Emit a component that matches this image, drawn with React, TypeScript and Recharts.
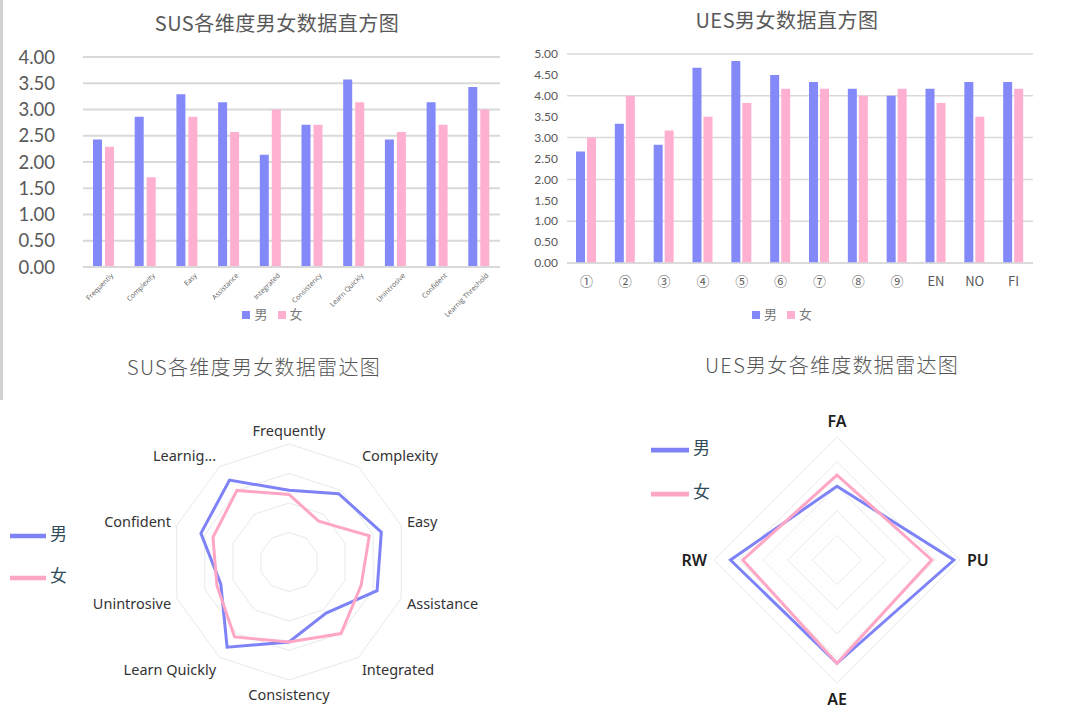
import {
  Bar,
  BarChart,
  CartesianGrid,
  Legend,
  PolarAngleAxis,
  PolarGrid,
  PolarRadiusAxis,
  Radar,
  RadarChart,
  XAxis,
  YAxis,
} from "recharts";

// SUS dimensions (bar + radar)
const susDims = [
  "Frequently",
  "Complexity",
  "Easy",
  "Assistance",
  "Integrated",
  "Consistency",
  "Learn Quickly",
  "Unintrosive",
  "Confident",
  "Learnig Threshold",
];
const susMale = [2.43, 2.86, 3.29, 3.14, 2.14, 2.71, 3.57, 2.43, 3.14, 3.43];
const susFemale = [2.29, 1.71, 2.86, 2.57, 3.0, 2.71, 3.14, 2.57, 2.71, 3.0];
const susTicks = [0, 0.5, 1, 1.5, 2, 2.5, 3, 3.5, 4];

// UES items (bar)
const uesItems = ["①", "②", "③", "④", "⑤", "⑥", "⑦", "⑧", "⑨", "EN", "NO", "FI"];
const uesMale = [2.67, 3.33, 2.83, 4.67, 4.83, 4.5, 4.33, 4.17, 4.0, 4.17, 4.33, 4.33];
const uesFemale = [3.0, 4.0, 3.17, 3.5, 3.83, 4.17, 4.17, 4.0, 4.17, 3.83, 3.5, 4.17];
const uesTicks = [0, 0.5, 1, 1.5, 2, 2.5, 3, 3.5, 4, 4.5, 5];

// UES dimensions (radar)
const uesDims = ["FA", "PU", "AE", "RW"];
const uesDimMale = [3.0, 4.75, 4.2, 4.33];
const uesDimFemale = [3.45, 3.85, 4.2, 3.83];

const seriesOrder = ["男", "女"];

const MALE_BAR = "#8389F8";
const FEMALE_BAR = "#FFAFCF";
const MALE_LINE = "#7D83F6";
const FEMALE_LINE = "#FFA6C6";

const CJK = '"Noto Sans CJK SC", "Noto Sans", sans-serif';

const susData = susDims.map((d, i) => ({ name: d, male: susMale[i], female: susFemale[i] }));
const uesData = uesItems.map((d, i) => ({ name: d, male: uesMale[i], female: uesFemale[i] }));
const uesDimData = uesDims.map((d, i) => ({ name: d, male: uesDimMale[i], female: uesDimFemale[i] }));

// keep 男 before 女 in legends (recharts sorts by value otherwise)
const legendSorter = (item: any) => seriesOrder.indexOf(String(item.value));

const titleStyle = (left: number, top: number, width: number, light = false) => ({
  position: "absolute" as const,
  left,
  top,
  width,
  textAlign: "center" as const,
  fontFamily: CJK,
  fontSize: 20,
  lineHeight: "28px",
  letterSpacing: light ? 1.3 : 0.5,
  fontWeight: light ? 300 : 400,
  color: light ? "#555" : "#595959",
});

const barLegendText = (v: string) => (
  <span style={{ color: "#7a7a7a", fontSize: 13, fontFamily: CJK }}>{v}</span>
);
const radarLegendText = (v: string) => (
  <span style={{ color: "#2f4b5a", fontSize: 17, fontFamily: CJK }}>{v}</span>
);

function SusTick(props: any) {
  const { x, y, payload } = props;
  return (
    <g transform={`translate(${x + 10},${y + 1})`}>
      <text
        textAnchor="end"
        transform="rotate(-45)"
        fontSize={7}
        fill="#595959"
        fontFamily='"Open Sans", sans-serif'
      >
        {payload.value}
      </text>
    </g>
  );
}

function makeRadarTick(cy: number, r: number, shift: number, fontSize: number, weight: number, color: string) {
  return (props: any) => {
    const { x, y, textAnchor, payload } = props;
    let label = String(payload.value);
    if (label.length > 14) label = label.slice(0, 7) + "...";
    const dy = ((y - cy) / r) * shift;
    return (
      <text
        x={x}
        y={y + dy}
        textAnchor={textAnchor}
        dominantBaseline="central"
        fontSize={fontSize}
        fontWeight={weight}
        fill={color}
        fontFamily='"Noto Sans", sans-serif'
      >
        {label}
      </text>
    );
  };
}

const susRadarTick = makeRadarTick(222, 124, 8, 14.5, 400, "#333");
const uesRadarTick = makeRadarTick(220, 130, 9, 16, 600, "#1e1e1e");

export default function App() {
  return (
    <div
      style={{
        position: "absolute",
        left: 0,
        top: 0,
        width: 1080,
        height: 720,
        background: "#fff",
        overflow: "hidden",
      }}
    >
      <div style={{ position: "absolute", left: 0, top: 0, width: 3, height: 400, background: "#d2d2d2" }} />

      {/* SUS bar chart */}
      <div style={titleStyle(0, 9, 554)}>SUS各维度男女数据直方图</div>
      <div style={{ position: "absolute", left: 0, top: 0 }}>
        <BarChart
          width={520}
          height={330}
          data={susData}
          margin={{ top: 57, right: 20, bottom: 13, left: 0 }}
          barSize={9}
          barGap={3}
        >
          <CartesianGrid vertical={false} stroke="#d9d9d9" strokeWidth={2} />
          <XAxis
            dataKey="name"
            interval={0}
            height={50}
            tick={<SusTick />}
            tickLine={false}
            axisLine={{ stroke: "#d9d9d9", strokeWidth: 2 }}
          />
          <YAxis
            width={83}
            domain={[0, 4]}
            ticks={susTicks}
            tickFormatter={(v) => Number(v).toFixed(2)}
            tickLine={false}
            axisLine={false}
            tickMargin={22}
            tick={{ fontSize: 18.5, fill: "#595959", fontFamily: "Lato, sans-serif" }}
          />
          <Legend
            layout="horizontal"
            verticalAlign="middle"
            align="center"
            iconType="square"
            iconSize={8}
            itemSorter={legendSorter}
            formatter={barLegendText}
            wrapperStyle={{ top: 304, left: 0, width: 555 }}
          />
          <Bar dataKey="male" name="男" fill={MALE_BAR} isAnimationActive={false} />
          <Bar dataKey="female" name="女" fill={FEMALE_BAR} isAnimationActive={false} />
        </BarChart>
      </div>

      {/* UES bar chart */}
      <div style={titleStyle(520, 6, 534)}>UES男女数据直方图</div>
      <div style={{ position: "absolute", left: 520, top: 0 }}>
        <BarChart
          width={560}
          height={330}
          data={uesData}
          margin={{ top: 54, right: 47, bottom: 37, left: 0 }}
          barSize={9}
          barGap={2}
        >
          <CartesianGrid vertical={false} stroke="#d9d9d9" strokeWidth={1.5} />
          <XAxis
            dataKey="name"
            interval={0}
            height={30}
            tickLine={false}
            tickMargin={8}
            axisLine={{ stroke: "#d9d9d9", strokeWidth: 1.5 }}
            tick={{ fontSize: 13, fill: "#595959", fontFamily: CJK }}
          />
          <YAxis
            width={47}
            domain={[0, 5]}
            ticks={uesTicks}
            tickFormatter={(v) => Number(v).toFixed(2)}
            tickLine={false}
            axisLine={false}
            tickMargin={3}
            tick={{ fontSize: 12, fill: "#595959", fontFamily: "Lato, sans-serif" }}
          />
          <Legend
            layout="horizontal"
            verticalAlign="middle"
            align="center"
            iconType="square"
            iconSize={8}
            itemSorter={legendSorter}
            formatter={barLegendText}
            wrapperStyle={{ top: 304, left: 0, width: 534 }}
          />
          <Bar dataKey="male" name="男" fill={MALE_BAR} isAnimationActive={false} />
          <Bar dataKey="female" name="女" fill={FEMALE_BAR} isAnimationActive={false} />
        </BarChart>
      </div>

      {/* SUS radar */}
      <div style={titleStyle(0, 353, 508, true)}>SUS各维度男女数据雷达图</div>
      <div style={{ position: "absolute", left: 0, top: 340 }}>
        <RadarChart
          width={520}
          height={380}
          data={susData}
          cx={289}
          cy={222}
          outerRadius={118}
          margin={{ top: 0, right: 0, bottom: 0, left: 0 }}
        >
          <PolarGrid gridType="polygon" radialLines={false} stroke="#e6eaea" />
          <PolarRadiusAxis domain={[0, 4]} tickCount={5} tick={false} axisLine={false} />
          <PolarAngleAxis
            dataKey="name"
            tickSize={6}
            tickLine={false}
            axisLine={false}
            tick={susRadarTick}
          />
          <Legend
            layout="vertical"
            verticalAlign="middle"
            align="center"
            iconType="plainline"
            iconSize={36}
            itemSorter={legendSorter}
            formatter={radarLegendText}
            wrapperStyle={{ top: 173, left: 10, width: "auto", lineHeight: "40px" }}
          />
          <Radar
            dataKey="male"
            name="男"
            stroke={MALE_LINE}
            strokeWidth={3}
            fill={MALE_LINE}
            fillOpacity={0}
            isAnimationActive={false}
          />
          <Radar
            dataKey="female"
            name="女"
            stroke={FEMALE_LINE}
            strokeWidth={3}
            fill={FEMALE_LINE}
            fillOpacity={0}
            isAnimationActive={false}
          />
        </RadarChart>
      </div>

      {/* UES radar */}
      <div style={titleStyle(560, 351, 544, true)}>UES男女各维度数据雷达图</div>
      <div style={{ position: "absolute", left: 560, top: 340 }}>
        <RadarChart
          width={520}
          height={380}
          data={uesDimData}
          cx={277}
          cy={220}
          outerRadius={123}
          margin={{ top: 0, right: 0, bottom: 0, left: 0 }}
        >
          <PolarGrid gridType="polygon" radialLines={false} stroke="#e6eaea" />
          <PolarRadiusAxis domain={[0, 5]} tickCount={6} tick={false} axisLine={false} />
          <PolarAngleAxis
            dataKey="name"
            tickSize={7}
            tickLine={false}
            axisLine={false}
            tick={uesRadarTick}
          />
          <Legend
            layout="vertical"
            verticalAlign="middle"
            align="center"
            iconType="plainline"
            iconSize={38}
            itemSorter={legendSorter}
            formatter={radarLegendText}
            wrapperStyle={{ top: 86, left: 91, width: "auto", lineHeight: "42px" }}
          />
          <Radar
            dataKey="male"
            name="男"
            stroke={MALE_LINE}
            strokeWidth={3}
            fill={MALE_LINE}
            fillOpacity={0}
            isAnimationActive={false}
          />
          <Radar
            dataKey="female"
            name="女"
            stroke={FEMALE_LINE}
            strokeWidth={3}
            fill={FEMALE_LINE}
            fillOpacity={0}
            isAnimationActive={false}
          />
        </RadarChart>
      </div>
    </div>
  );
}
